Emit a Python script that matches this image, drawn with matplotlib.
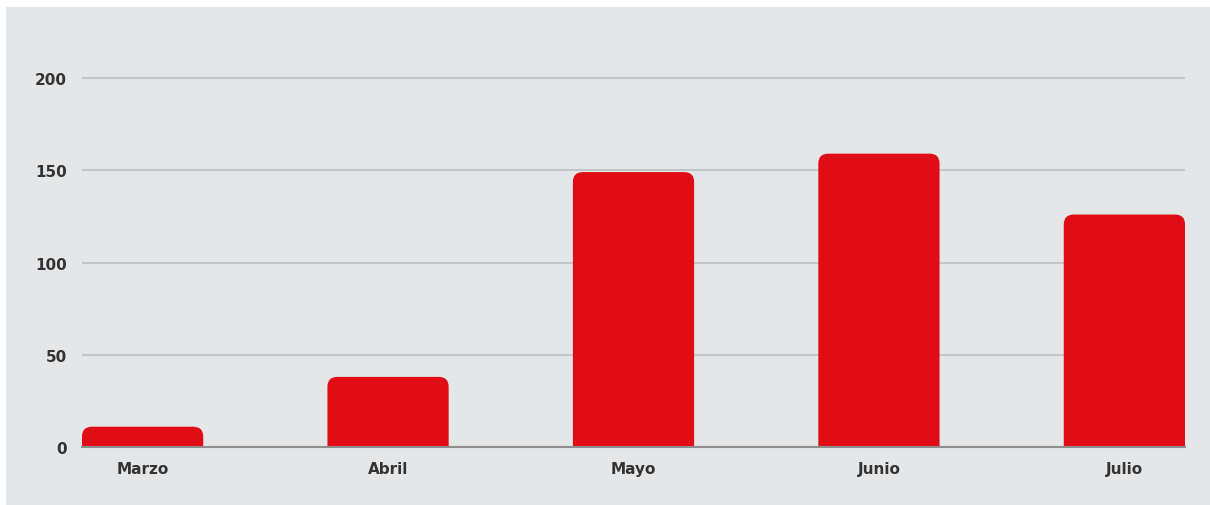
import matplotlib
matplotlib.use("Agg")
import matplotlib.pyplot as plt
from matplotlib.patches import FancyBboxPatch, Rectangle

months = ["Marzo", "Abril", "Mayo", "Junio", "Julio"]
values = [11, 38, 149, 159, 126]
yticks = [0, 50, 100, 150, 200]

W, H = 1210, 506
fig = plt.figure(figsize=(W / 100, H / 100), dpi=100)
fig.patch.set_facecolor("white")
fig.add_artist(Rectangle((6 / W, -0.01), 1 - 6 / W + 0.01, 1 - 8 / H + 0.01,
                         transform=fig.transFigure,
                         facecolor="#e5e6e8", edgecolor="none", zorder=0))

left, right = 82 / W, 1185 / W
bottom = 1 - 448 / H
ymax = 220
px_per_unit = 92.25 / 50
top_px = 448 - ymax * px_per_unit
ax = fig.add_axes([left, bottom, right - left, (448 - top_px) / H])
ax.set_facecolor("none")

width = 121 / 245
x = list(range(len(months)))
bars = ax.bar(x, values, width=width, color="#e00d16", zorder=3)
ax.set_xlim(-width / 2, len(months) - 1 + width / 2)
ax.set_ylim(0, ymax)

# rounded top corners
x_px_per_unit = 245
aspect = x_px_per_unit / px_per_unit
for b in bars:
    bx, bw, bh = b.get_x(), b.get_width(), b.get_height()
    b.set_visible(False)
    r = 0.04
    p = FancyBboxPatch((bx, -20), bw, bh + 20,
                       boxstyle=f"round,pad=0,rounding_size={r}",
                       mutation_aspect=aspect, facecolor="#e00d16",
                       edgecolor="none", zorder=3)
    ax.add_patch(p)

ax.set_yticks(yticks)
ax.yaxis.grid(True, color="#c4c5c7", linewidth=1.5, zorder=1)
ax.set_axisbelow(True)
for s in ["top", "right", "left"]:
    ax.spines[s].set_visible(False)
ax.spines["bottom"].set_color("#8e8e8e")
ax.spines["bottom"].set_linewidth(1.5)
ax.spines["bottom"].set_zorder(4)
ax.tick_params(axis="both", length=0, labelsize=11, labelcolor="#333333")
ax.tick_params(axis="y", pad=11)
ax.tick_params(axis="x", pad=10)
ax.set_xticks(x)
ax.set_xticklabels(months)
for lab in ax.get_xticklabels() + ax.get_yticklabels():
    lab.set_fontfamily("DejaVu Sans")
    lab.set_fontweight("bold")

fig.savefig("out.png", dpi=100, facecolor=fig.get_facecolor())
